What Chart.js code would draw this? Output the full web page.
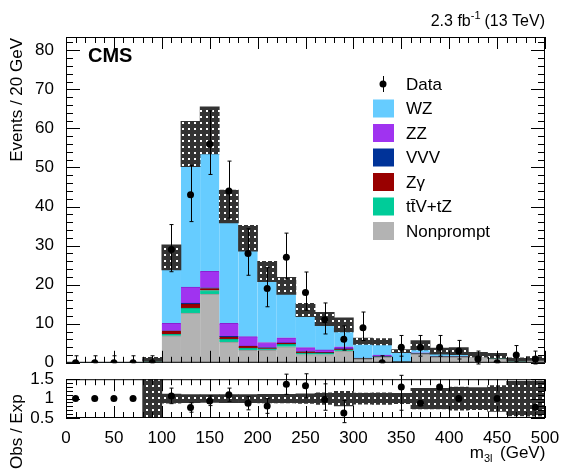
<!DOCTYPE html>
<html><head><meta charset="utf-8">
<script src="https://cdn.jsdelivr.net/npm/chart.js@4"></script>
<style>body{margin:0;background:#fff}canvas{position:absolute;left:0}</style>
</head><body>
<div style="position:absolute;left:0;top:0;width:568px;height:377px"><canvas id="c1"></canvas></div>
<div style="position:absolute;left:0;top:365px;width:568px;height:110px"><canvas id="c2"></canvas></div>
<script>
const binCenters=[10,30,50,70,90,110,130,150,170,190,210,230,250,270,290,310,330,350,370,390,410,430,450,470,490];
const nonprompt=[0,0,0,0,0.3,6.9,12.7,17.6,5.3,3.2,3.2,4.1,2.1,2.1,3.0,0.9,1.4,0.2,2.2,1.4,1.4,1.4,1.0,0.3,0.9];
const ttvtz=[0,0,0,0,0.05,0.4,1.3,0.9,0.8,0.6,0.4,0.6,0.4,0.3,0.3,0.1,0.1,0.05,0.1,0.1,0.1,0.1,0.05,0.05,0.05];
const zgamma=[0,0,0,0,0.4,0.8,1.0,0.5,0.5,0.4,0.2,0.3,0.3,0.2,0.2,0.05,0.05,0,0,0,0,0,0,0,0];
const vvv=[0,0,0,0,0,0.1,0.3,0.2,0.2,0.1,0.1,0.1,0.1,0.1,0.1,0.05,0.05,0.05,0.05,0.05,0.05,0.05,0.05,0.05,0.05];
const zz=[0,0,0,0,0.1,1.9,4.1,4.2,3.3,2.4,1.3,1.3,1.0,0.6,0.5,0.1,0.4,0.1,0.2,0.1,0.1,0.1,0.1,0.1,0.1];
const totalExp=[0,0,0,0,0.9,27,56,59.5,40,31.9,23.4,19.7,13.5,11.2,9.7,5.5,5.4,3,4.5,3,3,2.1,1.8,0.9,1.1];
const totalUnc=[0,0,0,0,0.5,3.2,5.8,6,4.2,3.3,2.6,2.2,1.7,1.7,1.8,0.8,0.8,0.4,1.2,0.8,0.9,0.6,0.6,0.4,0.5];
const dataObs=[0,0,0,0,0,29,43,56,44,28,19,27,18,11,6,9,0,4,4,4,3,1,0,2,1];
const ratioObs=[1,1,1,1,null,1.07,0.77,0.94,1.1,0.88,0.81,1.37,1.33,0.98,0.63,null,null,1.3,0.88,1.3,1.0,null,1.0,null,0.78];
const ratioErrLo=[0,0,0,0,0,0.2,0.12,0.12,0.17,0.17,0.19,0.26,0.31,0.28,0.25,0,0,0.6,0,0,0,0,0,0,0];
const ratioErrHi=[0,0,0,0,0,0.2,0.12,0.13,0.17,0.17,0.19,0.26,0.31,0.4,0.32,0,0,0.3,0,0,0,0,0,0,0];
const yTicks=[0,10,20,30,40,50,60,70,80];
const xTicks=[0,50,100,150,200,250,300,350,400,450,500];

const wz=totalExp.map((t,i)=>Math.max(0,t-nonprompt[i]-ttvtz[i]-zgamma[i]-vvv[i]-zz[i]));
const FONT='"Liberation Sans", Arial, sans-serif';
function pattern(){const p=document.createElement('canvas');p.width=6;p.height=6;const g=p.getContext('2d');g.fillStyle='#333';g.fillRect(0,0,6,6);g.fillStyle='#fff';g.fillRect(2,2,2,2);return g.createPattern(p,'repeat');}
const pat=pattern();
const xy=(arr)=>arr.map((v,i)=>({x:binCenters[i],y:v}));
const comps=[['Nonprompt',nonprompt,'#b3b3b3','#999'],['ttV+tZ',ttvtz,'#00cc99','#00aa80'],['Zγ',zgamma,'#990000','#880000'],['VVV',vvv,'#003399','#002277'],['ZZ',zz,'#a033f0','#8a20d0'],['WZ',wz,'#66ccff','#55b8ee']];
const barDs=comps.map(c=>({type:'bar',label:c[0],data:xy(c[1]),backgroundColor:c[2],borderColor:c[3],borderWidth:{top:1},barPercentage:1,categoryPercentage:1,yAxisID:'y',order:5}));

function inTicks(chart,ys,minorX,minorY){
  const ctx=chart.ctx,a=chart.chartArea,sx=chart.scales.x,sy=chart.scales.y;
  ctx.save();ctx.strokeStyle='#000';ctx.lineWidth=1;
  ctx.strokeRect(a.left+0.5,a.top+0.5,a.right-a.left-1,a.bottom-a.top-1);
  ctx.beginPath();
  for(let v=sx.min;v<=sx.max+1e-9;v+=minorX){const p=Math.round(sx.getPixelForValue(v))+0.5;const major=Math.abs(v/50-Math.round(v/50))<1e-6;const L=major?12:6;ctx.moveTo(p,a.bottom);ctx.lineTo(p,a.bottom-L);ctx.moveTo(p,a.top);ctx.lineTo(p,a.top+L);}
  ys.forEach(v=>{const p=Math.round(sy.getPixelForValue(v))+0.5;ctx.moveTo(a.left,p);ctx.lineTo(a.left+14,p);ctx.moveTo(a.right,p);ctx.lineTo(a.right-14,p);});
  if(minorY) for(let v=sy.min;v<=sy.max+1e-9;v+=minorY){const p=Math.round(sy.getPixelForValue(v))+0.5;ctx.moveTo(a.left,p);ctx.lineTo(a.left+7,p);ctx.moveTo(a.right,p);ctx.lineTo(a.right-7,p);}
  ctx.stroke();ctx.restore();
}
function errBars(chart,vals,lo,hi){
  const ctx=chart.ctx,sx=chart.scales.x,sy=chart.scales.y;
  ctx.save();ctx.strokeStyle='#000';ctx.lineWidth=1;ctx.beginPath();
  vals.forEach((v,i)=>{if(v==null)return;const l=lo[i],h=hi[i];if(!l&&!h)return;const x=Math.round(sx.getPixelForValue(binCenters[i]));const y1=sy.getPixelForValue(v-l),y2=sy.getPixelForValue(v+h);ctx.moveTo(x+0.5,y1);ctx.lineTo(x+0.5,y2);ctx.moveTo(x-1.5,y1);ctx.lineTo(x+2.5,y1);ctx.moveTo(x-1.5,y2);ctx.lineTo(x+2.5,y2);});
  ctx.stroke();ctx.restore();
}
const dLo=dataObs.map(n=>n===0?0:Math.sqrt(n)+0.3);
const dHi=dataObs.map(n=>n===0?1.8:Math.sqrt(n)+1);

const mainPlug={id:'m',afterDatasetsDraw(chart){
  errBars(chart,dataObs,dLo,dHi);
  inTicks(chart,yTicks,10,2);
  const ctx=chart.ctx;ctx.save();ctx.fillStyle='#000';
  ctx.font='bold 20px '+FONT;ctx.textBaseline='alphabetic';ctx.fillText('CMS',88,62);
  ctx.font='16px '+FONT;ctx.textAlign='right';
  const t1='(13 TeV)';ctx.fillText(t1,545,26);let x=545-ctx.measureText(t1).width-4;
  ctx.font='11px '+FONT;ctx.fillText('-1',x,19);x-=ctx.measureText('-1').width;
  ctx.font='16px '+FONT;ctx.fillText('2.3 fb',x,26);
  ctx.translate(22,110);ctx.rotate(-Math.PI/2);ctx.textAlign='right';ctx.font='17px '+FONT;ctx.fillText('Events / 20 GeV',72,0);ctx.restore();
  ctx.save();ctx.font='17px '+FONT;ctx.textBaseline='middle';
  const rows=[['Data'],['WZ','#66ccff'],['ZZ','#a033f0'],['VVV','#003399'],['Zγ','#990000'],['tt̄V+tZ','#00cc99'],['Nonprompt','#b3b3b3']];
  const y0=84,dy=24.5;
  rows.forEach((r,i)=>{const y=y0+i*dy;
    if(!r[1]){ctx.fillStyle='#000';ctx.beginPath();ctx.arc(383,y,3.5,0,7);ctx.fill();ctx.beginPath();ctx.moveTo(383.5,y-8);ctx.lineTo(383.5,y+8);ctx.stroke();}
    else{ctx.fillStyle=r[1];ctx.fillRect(373,y-9,21,18);}
    ctx.fillStyle='#000';ctx.fillText(r[0],406,y+1);});
  ctx.restore();
}};
new Chart(document.getElementById('c1'),{
  data:{datasets:[...barDs,
    {type:'bar',label:'unc',data:totalExp.map((t,i)=>({x:binCenters[i],y:t>0?[t-totalUnc[i],t+totalUnc[i]]:null})),backgroundColor:pat,barPercentage:1,categoryPercentage:1,yAxisID:'y2',order:3},
    {type:'line',label:'Data',data:xy(dataObs),showLine:false,pointRadius:3.5,pointBackgroundColor:'#000',pointBorderWidth:0,yAxisID:'y2',order:1}]},
  options:{responsive:true,maintainAspectRatio:false,animation:false,
    layout:{padding:{left:0,right:23,top:37,bottom:0}},
    plugins:{legend:{display:false},tooltip:{enabled:false}},
    scales:{
      x:{type:'linear',min:0,max:500,stacked:true,offset:false,grid:{display:false},border:{display:false},ticks:{display:false},afterFit(s){s.height=10;}},
      y:{min:0,max:83.4,stacked:true,grid:{display:false},border:{display:false},afterBuildTicks(s){s.ticks=yTicks.map(v=>({value:v}));},ticks:{color:'#000',font:{family:FONT,size:17},padding:4,autoSkip:false},afterFit(s){s.width=66;}},
      y2:{display:false,min:0,max:83.4,stacked:false}
    }},
  plugins:[mainPlug]});

const ratioPlug={id:'r',afterDatasetsDraw(chart){
  errBars(chart,ratioObs,ratioErrLo,ratioErrHi);
  inTicks(chart,[0.5,1,1.5],10,0.1);
  const ctx=chart.ctx;ctx.save();ctx.fillStyle='#000';ctx.font='17px '+FONT;
  ctx.textAlign='right';ctx.fillText('m',484,93);ctx.font='11px '+FONT;ctx.textAlign='left';ctx.fillText('3l',484,97);
  ctx.font='17px '+FONT;ctx.fillText('(GeV)',500,93);
  ctx.translate(22,104);ctx.rotate(-Math.PI/2);ctx.fillText('Obs / Exp',0,0);ctx.restore();
}};
new Chart(document.getElementById('c2'),{
  data:{datasets:[
    {type:'bar',data:totalExp.map((t,i)=>({x:binCenters[i],y:t>0?[1-totalUnc[i]/t,1+totalUnc[i]/t]:null})),backgroundColor:pat,barPercentage:1,categoryPercentage:1,order:3},
    {type:'line',data:xy(ratioObs),showLine:false,pointRadius:3.5,pointBackgroundColor:'#000',pointBorderWidth:0,order:1}]},
  options:{responsive:true,maintainAspectRatio:false,animation:false,
    layout:{padding:{left:0,right:23,top:10,bottom:0}},
    plugins:{legend:{display:false},tooltip:{enabled:false}},
    scales:{
      x:{type:'linear',min:0,max:500,offset:false,grid:{display:false,offset:false},border:{display:false},afterBuildTicks(s){s.ticks=xTicks.map(v=>({value:v}));},ticks:{color:'#000',font:{family:FONT,size:17},padding:2,maxRotation:0,autoSkip:false},afterFit(s){s.height=57;}},
      y:{min:0.5,max:1.5,grid:{display:false},border:{display:false},afterBuildTicks(s){s.ticks=[0.5,1,1.5].map(v=>({value:v}));},ticks:{color:'#000',font:{family:FONT,size:17},padding:4,autoSkip:false,callback:v=>String(v)},afterFit(s){s.width=66;}}
    }},
  plugins:[ratioPlug]});
</script></body></html>
